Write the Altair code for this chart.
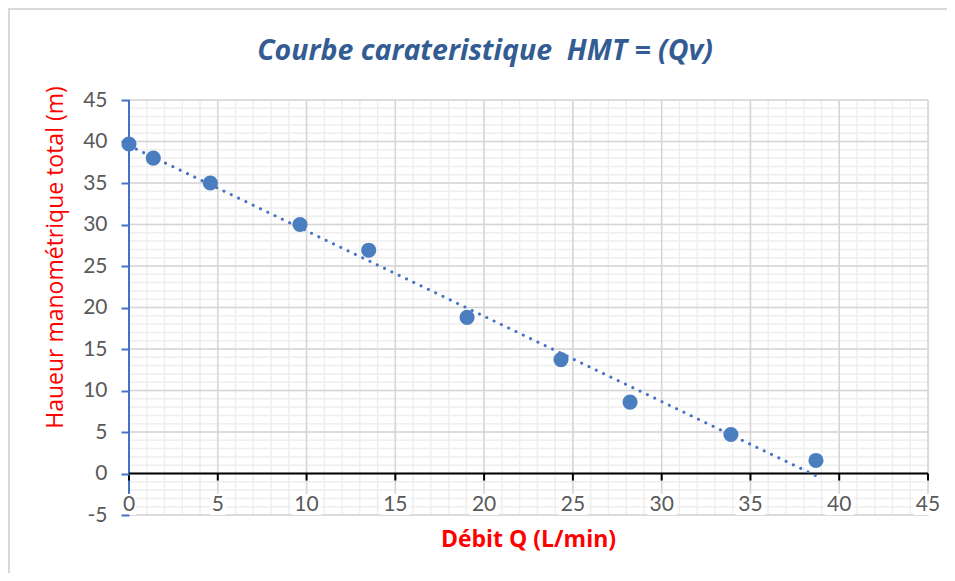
import altair as alt
import pandas as pd

# Data
debit = [0.0, 1.37, 4.58, 9.63, 13.5, 19.04, 24.33, 28.22, 33.9, 38.69]
hmt = [39.7, 38.0, 35.0, 30.0, 26.9, 18.8, 13.72, 8.6, 4.7, 1.57]

x_ticks = [0, 5, 10, 15, 20, 25, 30, 35, 40, 45]
y_ticks = [-5, 0, 5, 10, 15, 20, 25, 30, 35, 40, 45]
minor_x = list(range(0, 46))
minor_y = list(range(-5, 46))

TITLE = "Courbe carateristique\u00a0 HMT = (Qv)"
X_TITLE = "Débit Q (L/min)"
Y_TITLE = "Haueur manométrique total (m)"

FONT = "Lato"
TFONT = "Open Sans"
pts = pd.DataFrame({"Q": debit, "H": hmt})

xs = alt.Scale(domain=[0, 45], nice=False, zero=False)
ys = alt.Scale(domain=[-5, 45], nice=False, zero=False)

x_axis = alt.Axis(title=X_TITLE, labels=False, ticks=False, domain=False, grid=False,
                  titleFont=TFONT, titleFontSize=23, titleFontWeight="bold", titleColor="#ff0000",
                  titleY=24, titleBaseline="middle", titleX=399)
y_axis = alt.Axis(title=Y_TITLE, values=y_ticks, grid=False, domain=False,
                  tickColor="#4472c4", tickSize=8, tickWidth=2, labelPadding=14,
                  labelExpr="'' + datum.value",
                  labelFont=FONT, labelFontSize=21, labelColor="#595959",
                  titleFont=TFONT, titleFontSize=23, titleFontWeight="normal", titleColor="#ff0000",
                  titleX=-74, titleY=157, titleAngle=-90, titleAlign="center",
                  titleBaseline="middle", zindex=1)

minor_vx = alt.Chart(pd.DataFrame({"v": minor_x})).mark_rule(color="#eeeeee", strokeWidth=1.5).encode(
    x=alt.X("v:Q", scale=xs, axis=x_axis), y=alt.datum(-5), y2=alt.datum(45))
minor_hy = alt.Chart(pd.DataFrame({"v": minor_y})).mark_rule(color="#eeeeee", strokeWidth=1.5).encode(
    y=alt.Y("v:Q", scale=ys, axis=y_axis), x=alt.datum(0), x2=alt.datum(45))
major_vx = alt.Chart(pd.DataFrame({"v": x_ticks})).mark_rule(color="#d6d6d6", strokeWidth=1.5).encode(
    x=alt.X("v:Q", scale=xs), y=alt.datum(-5), y2=alt.datum(45))
major_hy = alt.Chart(pd.DataFrame({"v": y_ticks})).mark_rule(color="#d6d6d6", strokeWidth=1.5).encode(
    y=alt.Y("v:Q", scale=ys), x=alt.datum(0), x2=alt.datum(45))

yaxis_line = alt.Chart(pd.DataFrame({"a": [0]})).mark_rule(color="#4472c4", strokeWidth=2).encode(
    x=alt.X("a:Q", scale=xs), y=alt.datum(-5), y2=alt.datum(45))
xaxis_line = alt.Chart(pd.DataFrame({"a": [0]})).mark_rule(color="#000000", strokeWidth=2).encode(
    y=alt.Y("a:Q", scale=ys), x=alt.datum(0), x2=alt.datum(45))
xaxis_ticks = alt.Chart(pd.DataFrame({"v": x_ticks})).mark_rule(color="#000000", strokeWidth=2).encode(
    x=alt.X("v:Q", scale=xs), y=alt.datum(0), y2=alt.datum(-0.85))

lab = pd.DataFrame({"v": x_ticks, "t": [str(v) for v in x_ticks]})
lab_boxes = alt.Chart(lab).mark_rect(color="white").transform_calculate(
    a="datum.v - (0.38*length(datum.t) + 0.05)", b="datum.v + (0.38*length(datum.t) + 0.05)"
).encode(x=alt.X("a:Q", scale=xs), x2="b:Q", y=alt.datum(-2.45), y2=alt.datum(-5))
lab_text = alt.Chart(lab).mark_text(font=FONT, fontSize=21, color="#595959", baseline="middle").encode(
    x=alt.X("v:Q", scale=xs), y=alt.datum(-3.85), text="t:N")

trend = alt.Chart(pts).transform_regression("Q", "H", extent=[0, 38.69]).mark_line(
    color="#4472c4", strokeWidth=3, strokeDash=[0.1, 8], strokeCap="round"
).encode(x=alt.X("Q:Q", scale=xs), y=alt.Y("H:Q", scale=ys))

points = alt.Chart(pts).mark_point(filled=True, size=230, color="#4a7ebf", opacity=1).encode(
    x=alt.X("Q:Q", scale=xs), y=alt.Y("H:Q", scale=ys))

title_text = alt.Chart(pd.DataFrame({"t": [TITLE]})).mark_text(
    font=TFONT, fontSize=28.5, fontStyle="italic", fontWeight="bold", color="#335c92", baseline="middle"
).encode(x=alt.value(356), y=alt.value(-49), text="t:N")

frame_left = alt.Chart(pd.DataFrame({"a": [0]})).mark_rule(color="#d9d9d9", strokeWidth=2).encode(
    x=alt.value(-120), y=alt.value(-92), y2=alt.value(500))
frame_top = alt.Chart(pd.DataFrame({"a": [0]})).mark_rule(color="#d9d9d9", strokeWidth=2).encode(
    y=alt.value(-91), x=alt.value(-121), x2=alt.value(818))

chart = alt.layer(
    minor_vx, minor_hy, major_vx, major_hy,
    yaxis_line, xaxis_line, xaxis_ticks,
    lab_boxes, lab_text, trend, points, title_text, frame_left, frame_top,
).properties(
    width=799, height=415,
    autosize=alt.AutoSizeParams(type="none"),
    padding={"left": 121, "top": 92, "right": 19, "bottom": 58},
).configure_view(stroke=None).configure(background="white")

chart.save("out.html", embed_options={"renderer": "svg", "actions": False})
